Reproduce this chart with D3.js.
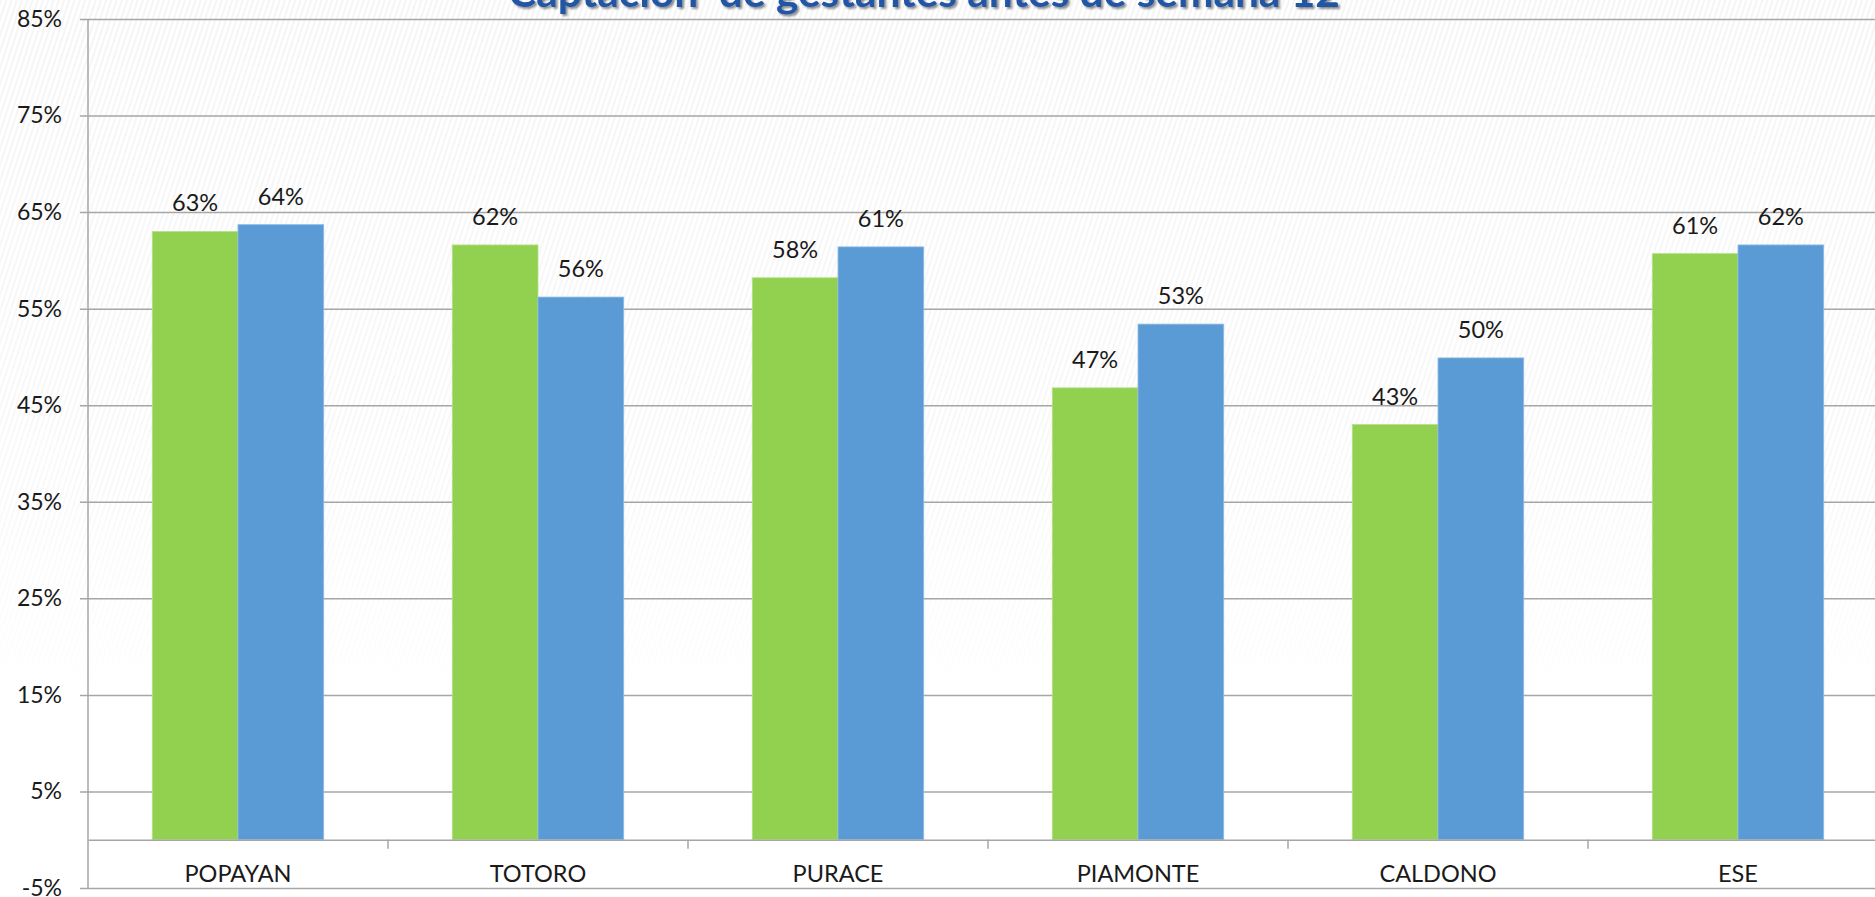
<!DOCTYPE html>
<html>
<head>
<meta charset="utf-8">
<script src="https://cdn.jsdelivr.net/npm/d3@7"></script>
<style>
  html, body { margin: 0; padding: 0; background: #ffffff; overflow: hidden; }
  svg { display: block; }
</style>
</head>
<body>
<svg id="chart" width="1875" height="897"></svg>
<script>
// ---- data ----
const title = "Captación  de gestantes antes de semana 12";
const categories = ["POPAYAN", "TOTORO", "PURACE", "PIAMONTE", "CALDONO", "ESE"];
const seriesNames = ["Serie 1", "Serie 2"];
const serie1 = [63.0, 61.6, 58.2, 46.8, 43.0, 60.7];
const serie2 = [63.7, 56.2, 61.4, 53.4, 49.9, 61.6];
const yTicks = [-5, 5, 15, 25, 35, 45, 55, 65, 75, 85];
const colors = ["#92d050", "#5b9bd5"];

(function () {
const svg = d3.select("#chart");
const W = 1875, H = 897;
const pLeft = 88, pRight = 1888, pTop = 19, pBottom = 888;

const y = d3.scaleLinear().domain([-5, 85]).range([pBottom, pTop]);
const x0 = d3.scaleBand().domain(categories).range([pLeft, pRight]).paddingInner(0).paddingOuter(0);
const x1 = d3.scaleBand().domain(seriesNames).range([0, x0.bandwidth()]).paddingInner(0).paddingOuter(0.75);

// background stripes
const defs = svg.append("defs");
const pat = defs.append("pattern").attr("id", "stripes").attr("patternUnits", "userSpaceOnUse")
  .attr("width", 5).attr("height", 5).attr("patternTransform", "rotate(18)");
pat.append("rect").attr("width", 5).attr("height", 5).attr("fill", "#ffffff");
pat.append("rect").attr("width", 2).attr("height", 5).attr("fill", "#f5f5f5");
const grad = defs.append("linearGradient").attr("id", "fade").attr("x1", 0).attr("y1", 0).attr("x2", 0).attr("y2", 1);
grad.append("stop").attr("offset", "0%").attr("stop-color", "#fff").attr("stop-opacity", 1);
grad.append("stop").attr("offset", "55%").attr("stop-color", "#fff").attr("stop-opacity", 0.6);
grad.append("stop").attr("offset", "80%").attr("stop-color", "#fff").attr("stop-opacity", 0);
const mask = defs.append("mask").attr("id", "fadeMask");
mask.append("rect").attr("x", 0).attr("y", 0).attr("width", W).attr("height", H).attr("fill", "url(#fade)");
svg.append("rect").attr("x", 0).attr("y", 0).attr("width", W).attr("height", H)
  .attr("fill", "url(#stripes)").attr("mask", "url(#fadeMask)");

const shadow = defs.append("filter").attr("id", "shadow").attr("x", "-10%").attr("y", "-50%").attr("width", "120%").attr("height", "200%");
shadow.append("feDropShadow").attr("dx", 2).attr("dy", 2).attr("stdDeviation", 1.2).attr("flood-color", "#000").attr("flood-opacity", 0.45);

// gridlines + y axis
const yAxis = d3.axisLeft(y).tickValues(yTicks).tickSize(-(pRight - pLeft)).tickPadding(18)
  .tickFormat(d => d + "%");
const gy = svg.append("g").attr("transform", `translate(${pLeft},0)`).call(yAxis);
gy.select(".domain").remove();
gy.selectAll(".tick line").attr("stroke", "#a6a6a6").attr("stroke-width", 1.5).attr("x1", -8);
gy.selectAll(".tick text").attr("font-family", "Lato, 'Open Sans', sans-serif").attr("font-size", 23)
  .attr("fill", "#1a1a1a").attr("x", -26);
// y axis vertical line
svg.append("line").attr("x1", pLeft).attr("x2", pLeft).attr("y1", pTop).attr("y2", pBottom)
  .attr("stroke", "#a6a6a6").attr("stroke-width", 1.5);

// bars
const groups = svg.append("g").selectAll("g").data(categories).join("g")
  .attr("transform", d => `translate(${x0(d)},0)`);
const seriesData = [serie1, serie2];
groups.each(function(cat, i) {
  const g = d3.select(this);
  seriesNames.forEach((s, j) => {
    const v = seriesData[j][i];
    g.append("rect").attr("x", x1(s)).attr("width", x1.bandwidth())
      .attr("y", y(v)).attr("height", y(0) - y(v)).attr("fill", colors[j])
      .attr("stroke", j === 0 ? "#b6e08a" : "#8fbbe6").attr("stroke-width", 0.8);
    g.append("text").attr("x", x1(s) + x1.bandwidth() / 2).attr("y", y(v) - 20)
      .attr("text-anchor", "middle").attr("font-family", "Lato, 'Open Sans', sans-serif")
      .attr("font-size", 23.5).attr("fill", "#1a1a1a").text(Math.round(v) + "%");
  });
});

// x axis at zero
const xAxis = d3.axisBottom(x0).tickSize(0).tickPadding(26);
const gx = svg.append("g").attr("transform", `translate(0,${y(0)})`).call(xAxis);
gx.select(".domain").attr("stroke", "#a6a6a6").attr("stroke-width", 1.5);
gx.selectAll(".tick text").attr("font-family", "Lato, 'Open Sans', sans-serif").attr("font-size", 23.5)
  .attr("fill", "#1a1a1a");
// category boundary tick marks
svg.append("g").selectAll("line").data(categories.slice(1)).join("line")
  .attr("x1", d => x0(d)).attr("x2", d => x0(d)).attr("y1", y(0)).attr("y2", y(0) + 9)
  .attr("stroke", "#a6a6a6").attr("stroke-width", 1.5);

// title
const t = svg.append("text").attr("x", 924).attr("y", 7).attr("text-anchor", "middle")
  .style("white-space", "pre")
  .attr("font-family", "Lato, 'Open Sans', sans-serif").attr("font-weight", "bold")
  .attr("font-size", 40).attr("fill", "#2456a4").attr("filter", "url(#shadow)").text(title);
const len = t.node().getComputedTextLength();
t.attr("font-size", 40 * 832 / len);
})();
</script>
</body>
</html>
